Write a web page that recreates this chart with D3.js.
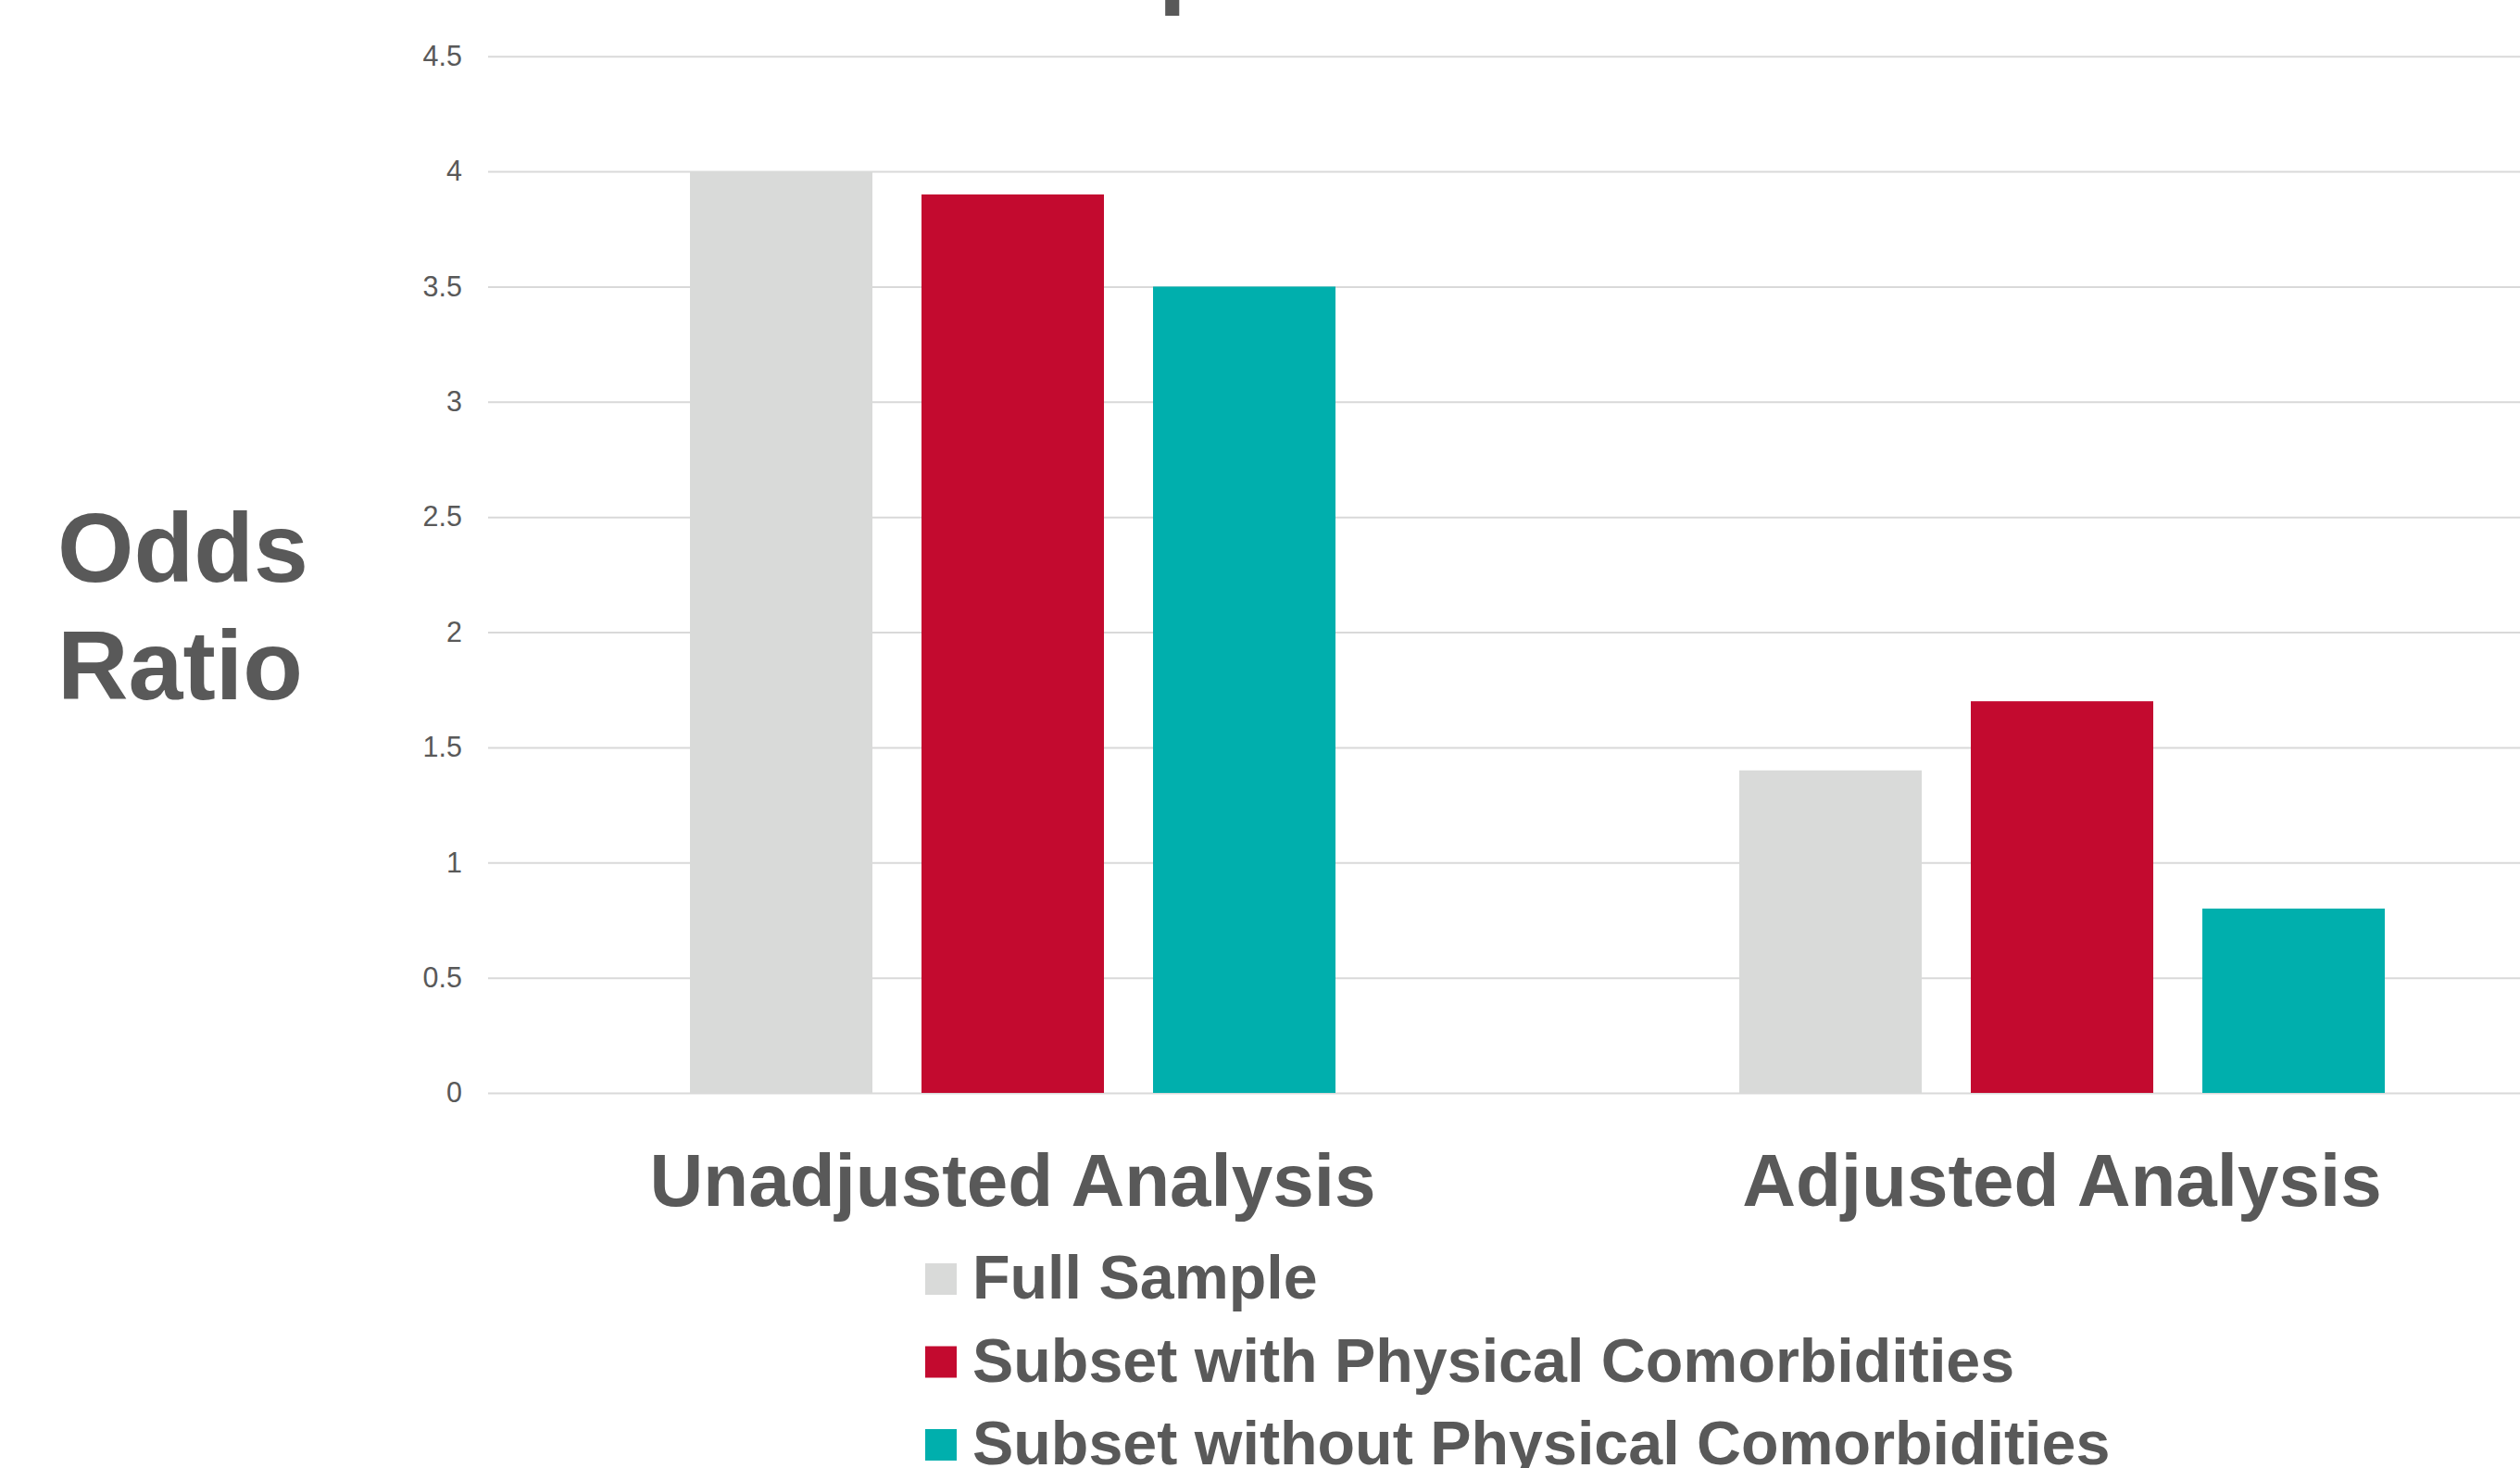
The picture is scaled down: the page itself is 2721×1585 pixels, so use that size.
<!DOCTYPE html>
<html>
<head>
<meta charset="utf-8">
<script src="https://cdn.jsdelivr.net/npm/d3@7"></script>
<style>
  html, body { margin: 0; padding: 0; background: #ffffff; }
  svg { display: block; }
  text { font-family: "Liberation Sans", Arial, sans-serif; fill: #595959; }
</style>
</head>
<body>
<script>
// Odds ratios by analysis type and sample
const categories = ["Unadjusted Analysis", "Adjusted Analysis"];
const seriesNames = ["Full Sample", "Subset with Physical Comorbidities", "Subset without Physical Comorbidities"];
const fullSample = [4.0, 1.4];
const withComorbid = [3.9, 1.7];
const withoutComorbid = [3.5, 0.8];
const seriesColors = ["#D9DAD9", "#C30A2F", "#00AFAD"];
const yTicks = [0, 0.5, 1, 1.5, 2, 2.5, 3, 3.5, 4, 4.5];
const yTickLabels = ["0", "0.5", "1", "1.5", "2", "2.5", "3", "3.5", "4", "4.5"];
const titleText = "Comparison of Odds Ratios";
const yTitleLines = ["Odds", "Ratio"];

const W = 2721, H = 1585;
const seriesValues = [fullSample, withComorbid, withoutComorbid];

const svg = d3.select("body").append("svg")
  .attr("width", W).attr("height", H);

const y = d3.scaleLinear().domain([0, 4.5]).range([1180, 60.7]);
const x0 = d3.scaleBand().domain(categories).range([527, 2793]).paddingInner(0).paddingOuter(0);
const x1 = d3.scaleBand().domain(seriesNames).range([0, x0.bandwidth()])
  .paddingInner(0.212).paddingOuter(0.872);

// Title (sits above the visible area)
svg.append("text")
  .attr("x", 1006).attr("y", -6)
  .attr("font-size", 110).attr("font-weight", "bold")
  .text(titleText);

// Gridlines and tick labels
const yAxis = d3.axisLeft(y)
  .tickValues(yTicks)
  .tickFormat((d, i) => yTickLabels[i])
  .tickSize(-(W - 527))
  .tickPadding(28);

const gAxis = svg.append("g")
  .attr("transform", "translate(527,0)")
  .call(yAxis);
gAxis.select(".domain").remove();
gAxis.selectAll(".tick line")
  .attr("stroke", "#D9D9D9").attr("stroke-width", 2);
gAxis.selectAll(".tick text")
  .attr("font-size", 30.5)
  .attr("fill", "#595959")
  .style("font-family", "'Liberation Sans', Arial, sans-serif");

// Bars
const groups = svg.append("g").selectAll("g")
  .data(categories)
  .join("g")
  .attr("transform", d => `translate(${x0(d)},0)`);

groups.selectAll("rect")
  .data((c, ci) => seriesNames.map((s, si) => ({ s, si, v: seriesValues[si][ci] })))
  .join("rect")
  .attr("x", d => x1(d.s))
  .attr("width", x1.bandwidth())
  .attr("y", d => y(d.v))
  .attr("height", d => y(0) - y(d.v))
  .attr("fill", d => seriesColors[d.si]);

// Category labels
svg.append("g").selectAll("text")
  .data(categories)
  .join("text")
  .attr("x", d => x0(d) + x0.bandwidth() / 2)
  .attr("y", 1302)
  .attr("text-anchor", "middle")
  .attr("font-size", 80)
  .attr("font-weight", "bold")
  .text(d => d);

// Y axis title
svg.append("g").selectAll("text")
  .data(yTitleLines)
  .join("text")
  .attr("x", 62)
  .attr("y", (d, i) => 628 + i * 127)
  .attr("font-size", 106)
  .attr("font-weight", "bold")
  .text(d => d);

// Legend
const legend = svg.append("g").attr("transform", "translate(999,1364)");
const items = legend.selectAll("g")
  .data(seriesNames)
  .join("g")
  .attr("transform", (d, i) => `translate(0,${i * 89.5})`);
items.append("rect")
  .attr("width", 34).attr("height", 34)
  .attr("fill", (d, i) => seriesColors[i]);
items.append("text")
  .attr("x", 51).attr("y", 38)
  .attr("font-size", 66.4)
  .attr("font-weight", "bold")
  .text(d => d);
</script>
</body>
</html>
